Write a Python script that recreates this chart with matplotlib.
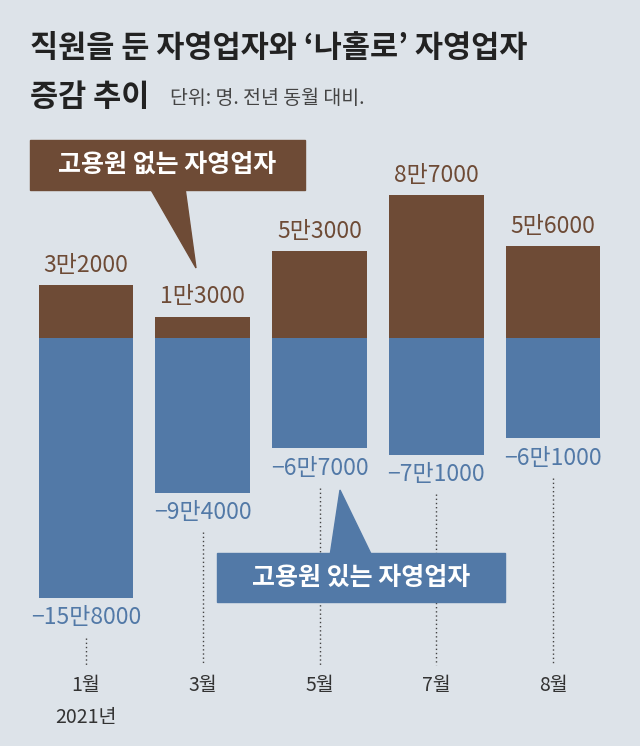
import matplotlib
matplotlib.use("Agg")
import matplotlib.pyplot as plt
from matplotlib.patches import Polygon, FancyBboxPatch

plt.rcParams["font.family"] = "Noto Sans CJK KR"

months = ["1월", "3월", "5월", "7월", "8월"]
no_emp = [32000, 13000, 53000, 87000, 56000]
with_emp = [-158000, -94000, -67000, -71000, -61000]
no_emp_labels = ["3만2000", "1만3000", "5만3000", "8만7000", "5만6000"]
with_emp_labels = ["−15만8000", "−9만4000", "−6만7000", "−7만1000", "−6만1000"]

BG = "#dde3e9"
BROWN = "#6e4b36"
BLUE = "#5279a7"

fig = plt.figure(figsize=(6.4, 7.46), dpi=100, facecolor=BG)
ax = fig.add_axes([0, 0, 1, 1], facecolor=BG)
px = 1.646 / 1000  # pixels per unit
ax.set_xlim(-86 / 116.75, (640 - 86) / 116.75)
ax.set_ylim(-(746 - 338) / px, 338 / px)
ax.axis("off")

def py(p):  # pixel y -> data y
    return (338 - p) / px
def pxx(p):
    return (p - 86) / 116.75

x = list(range(len(months)))
ax.bar(x, no_emp, width=0.81, color=BROWN)
ax.bar(x, with_emp, width=0.81, color=BLUE)

for i in x:
    ax.text(i, no_emp[i] + 5000, no_emp_labels[i], ha="center", va="bottom",
            fontsize=16.5, color=BROWN)
    ax.text(i, with_emp[i] - 5000, with_emp_labels[i], ha="center", va="top",
            fontsize=16.5, color=BLUE)
    ax.plot([i, i], [with_emp[i] - 24000, py(665)], color="#444444",
            lw=1, ls=(0, (1, 2)), zorder=1)
    ax.text(i, py(686), months[i], ha="center", va="center", fontsize=14,
            color="#333333")
ax.text(0, py(717), "2021년", ha="center", va="center", fontsize=14, color="#333333")

# callouts
ax.add_patch(Polygon([[pxx(150), py(188)], [pxx(185), py(188)], [pxx(196), py(268)]],
                     closed=True, color=BROWN, zorder=3))
ax.add_patch(FancyBboxPatch((pxx(30), py(190)), pxx(305) - pxx(30), py(140) - py(190),
                            boxstyle="square,pad=0", color=BROWN, zorder=3))
ax.text((pxx(30) + pxx(305)) / 2, py(165), "고용원 없는 자영업자", ha="center",
        va="center", fontsize=18, fontweight="bold", color="white", zorder=4)

ax.add_patch(Polygon([[pxx(330), py(556)], [pxx(372), py(556)], [pxx(340), py(490)]],
                     closed=True, color=BLUE, zorder=3))
ax.add_patch(FancyBboxPatch((pxx(217), py(602)), pxx(505) - pxx(217), py(553) - py(602),
                            boxstyle="square,pad=0", color=BLUE, zorder=3))
ax.text((pxx(217) + pxx(505)) / 2, py(578), "고용원 있는 자영업자", ha="center",
        va="center", fontsize=18, fontweight="bold", color="white", zorder=4)

fig.text(30 / 640, 1 - 48 / 746, "직원을 둔 자영업자와 ‘나홀로’ 자영업자",
         fontsize=22, fontweight="bold", color="#222222", va="center")
fig.text(30 / 640, 1 - 97 / 746, "증감 추이", fontsize=22, fontweight="bold",
         color="#222222", va="center")
fig.text(170 / 640, 1 - 98 / 746, "단위: 명. 전년 동월 대비.", fontsize=14,
         color="#444444", va="center")

fig.savefig("out.png", dpi=100, facecolor=BG)
